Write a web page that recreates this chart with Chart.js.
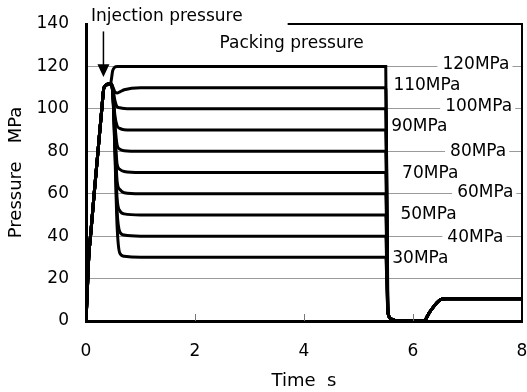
<!DOCTYPE html>
<html>
<head>
<meta charset="utf-8">
<script src="https://cdn.jsdelivr.net/npm/chart.js@4/dist/chart.umd.min.js"></script>
<style>
html,body{margin:0;padding:0;background:#fff;}
#wrap{width:527px;height:392px;}
</style>
</head>
<body>
<div id="wrap"><canvas id="c" width="527" height="392"></canvas></div>
<script>
// ---- data ----
const times = [0, 0.02, 0.05, 0.09, 0.15, 0.22, 0.29, 0.33, 0.45,
               0.49, 0.53, 0.57, 0.62, 0.7, 1.0,
               5.5, 5.54, 5.6, 5.7, 6.2, 6.3, 6.5, 6.6, 8];
const risePressure = [0, 12, 30, 42, 60, 80, 100, 110, 112];
const fallPressure = [4, 1, 0, 0, 4, 10, 10.5, 10.5];
const seriesNames = ['120MPa','110MPa','100MPa','90MPa','80MPa','70MPa','60MPa','50MPa','40MPa','30MPa'];
const levels = [120, 110, 100, 90, 80, 70, 60, 50, 40, 30];
// pressure after injection peak at t = 0.49, 0.53, 0.57, 0.62, 0.7, 1.0
const p120 = [118, 119.7, 120, 120, 120, 120];
const p110 = [110.5, 108, 107.5, 108, 109, 110];
const p100 = [110, 104, 101, 100.5, 100.2, 100];
const p90  = [109, 97, 92, 90.8, 90.2, 90];
const p80  = [109, 93, 83, 81, 80.3, 80];
const p70  = [108, 90, 74, 71.5, 70.5, 70];
const p60  = [108, 88, 66, 62, 60.5, 60];
const p50  = [108, 85, 58, 52, 50.5, 50];
const p40  = [108, 82, 52, 42, 40.5, 40];
const p30  = [108, 80, 45, 32, 30.5, 30];
const holdSeries = [p120, p110, p100, p90, p80, p70, p60, p50, p40, p30];
// label positions (time value) for the level labels
const labelTime = [6.54, 5.64, 6.59, 5.6, 6.68, 5.8, 6.81, 5.77, 6.63, 5.62];
const labelLevel = [121, 111, 101, 91.5, 80, 69.5, 60.3, 50.4, 39.1, 29.5];
const xTicks = [0, 2, 4, 6, 8];
const yTicks = [0, 20, 40, 60, 80, 100, 120, 140];

const FONT = '"DejaVu Sans", sans-serif';

function buildSeries(k) {
  const vals = risePressure.concat(holdSeries[k], [levels[k]], fallPressure);
  return times.map((t, i) => ({x: t, y: vals[i]}));
}

const datasets = seriesNames.map((name, k) => ({
  label: name,
  data: buildSeries(k),
  borderColor: '#000',
  borderWidth: 3,
  pointRadius: 0,
  fill: false,
  cubicInterpolationMode: 'monotone'
}));

const decor = {
  id: 'decor',
  afterDraw(chart) {
    const ctx = chart.ctx;
    const xs = chart.scales.x, ys = chart.scales.y;
    const X = v => xs.getPixelForValue(v), Y = v => ys.getPixelForValue(v);
    ctx.save();
    // inward x ticks
    ctx.strokeStyle = '#777';
    ctx.lineWidth = 1;
    [2, 4, 6].forEach(v => {
      ctx.beginPath();
      ctx.moveTo(Math.round(X(v)) + 0.5, Y(0));
      ctx.lineTo(Math.round(X(v)) + 0.5, Y(0) - 7);
      ctx.stroke();
    });
    // partial top border and right border
    ctx.strokeStyle = '#000';
    ctx.lineWidth = 2;
    ctx.beginPath();
    ctx.moveTo(X(3.7), Y(140));
    ctx.lineTo(X(8), Y(140));
    ctx.lineTo(X(8), Y(0));
    ctx.stroke();
    // level labels
    ctx.font = '17px ' + FONT;
    ctx.textBaseline = 'middle';
    ctx.textAlign = 'left';
    seriesNames.forEach((name, k) => {
      const x = X(labelTime[k]), y = Y(labelLevel[k]);
      if (levels[k] % 20 === 0) {
        const w = ctx.measureText(name).width;
        ctx.fillStyle = '#fff';
        ctx.fillRect(x - 5, y - 9, w + 8, 18);
      }
      ctx.fillStyle = '#000';
      ctx.fillText(name, x, y);
    });
    // annotations
    ctx.fillText('Injection pressure', X(0.09), Y(143.3));
    ctx.fillText('Packing pressure', X(2.45), Y(131));
    // arrow
    const ax = X(0.32);
    ctx.strokeStyle = '#000';
    ctx.lineWidth = 1.5;
    ctx.beginPath();
    ctx.moveTo(ax, Y(136.5));
    ctx.lineTo(ax, Y(120));
    ctx.stroke();
    ctx.beginPath();
    ctx.moveTo(ax - 6, Y(121));
    ctx.lineTo(ax + 6, Y(121));
    ctx.lineTo(ax, Y(115));
    ctx.closePath();
    ctx.fill();
    ctx.restore();
  }
};

new Chart(document.getElementById('c'), {
  type: 'line',
  data: {datasets},
  options: {
    responsive: false,
    animation: false,
    layout: {padding: {top: 24, right: 5, left: 0, bottom: 0}},
    plugins: {legend: {display: false}, tooltip: {enabled: false}},
    scales: {
      x: {
        type: 'linear', min: 0, max: 8,
        afterBuildTicks: s => { s.ticks = xTicks.map(v => ({value: v})); },
        afterFit: s => { s.height = 71; s.paddingLeft = 0; s.paddingRight = 0; },
        grid: {display: true, color: 'rgba(0,0,0,0)', drawTicks: false},
        border: {display: true, color: '#000', width: 3},
        ticks: {color: '#000', font: {family: FONT, size: 17}, padding: 20, maxRotation: 0},
        title: {display: true, text: 'Time  s', color: '#000', font: {family: FONT, size: 18}, padding: {top: 8, bottom: 0}}
      },
      y: {
        min: 0, max: 140,
        afterBuildTicks: s => { s.ticks = yTicks.map(v => ({value: v})); },
        afterFit: s => { s.width = 86; s.paddingTop = 0; s.paddingBottom = 0; },
        grid: {
          color: c => (c.tick && (c.tick.value === 0 || c.tick.value === 140)) ? 'rgba(0,0,0,0)' : '#9a9a9a',
          lineWidth: 1, drawTicks: false
        },
        border: {display: true, color: '#000', width: 3},
        ticks: {color: '#000', font: {family: FONT, size: 17}, padding: 17},
        title: {display: true, text: 'Pressure\u3000MPa', color: '#000', font: {family: FONT, size: 18}, padding: {top: 6, bottom: 0}}
      }
    }
  },
  plugins: [decor]
});
</script>
</body>
</html>
